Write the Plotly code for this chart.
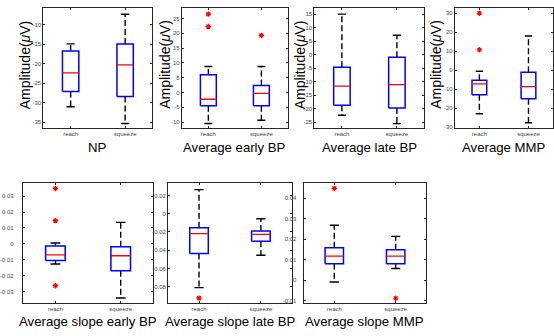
import plotly.graph_objects as go

W, H = 554, 336

categories = ["reach", "squeeze"]
panel_titles = ["NP", "Average early BP", "Average late BP", "Average MMP",
                "Average slope early BP", "Average slope late BP", "Average slope MMP"]

# per panel: [lower whisker, q1, median, q3, upper whisker] for reach, squeeze
np_reach = [-31.0, -27.1, -22.3, -16.7, -14.9]
np_squeeze = [-35.3, -28.4, -20.3, -14.9, -7.3]
np_out_reach = []
np_out_squeeze = []

ebp_reach = [-10.5, -4.5, -2.3, 6.0, 8.8]
ebp_squeeze = [-9.4, -4.5, -0.3, 2.4, 8.8]
ebp_out_reach = [26.5, 22.3]
ebp_out_squeeze = [19.3]

lbp_reach = [-22.4, -18.7, -11.6, -4.6, 15.0]
lbp_squeeze = [-25.5, -19.7, -11.1, -0.9, 7.2]
lbp_out_reach = []
lbp_out_squeeze = []

mmp_reach = [-22.9, -12.9, -7.2, -5.2, -0.5]
mmp_squeeze = [-27.6, -15.0, -8.6, -1.0, 18.0]
mmp_out_reach = [30.0, 10.8]
mmp_out_squeeze = []

sebp_reach = [-0.0127, -0.0104, -0.0069, -0.0013, 0.0005]
sebp_squeeze = [-0.034, -0.0169, -0.0075, -0.0019, 0.0135]
sebp_out_reach = [0.0348, 0.0146, -0.0263]
sebp_out_squeeze = []

slbp_reach = [-0.0811, -0.0436, -0.0218, -0.0153, 0.0265]
slbp_squeeze = [-0.0455, -0.0302, -0.0226, -0.019, -0.0055]
slbp_out_reach = [-0.0927]
slbp_out_squeeze = []

smmp_reach = [-0.0008, 0.0081, 0.0118, 0.0158, 0.0268]
smmp_squeeze = [0.0058, 0.0081, 0.0118, 0.0149, 0.0214]
smmp_out_reach = [0.0447]
smmp_out_squeeze = [-0.0087]

# tick values per panel
np_ticks = [-35, -30, -25, -20, -15, -10]
ebp_ticks = [-10, -5, 0, 5, 10, 15, 20, 25]
lbp_ticks = [-25, -20, -15, -10, -5, 0, 5, 10, 15]
mmp_ticks = [-30, -20, -10, 0, 10, 20, 30]
sebp_ticks = [-0.03, -0.02, -0.01, 0, 0.01, 0.02, 0.03]
slbp_ticks = [-0.08, -0.06, -0.04, -0.02, 0, 0.02]
smmp_ticks = [-0.01, 0, 0.01, 0.02, 0.03, 0.04]

panels = [
    (np_reach, np_squeeze, np_out_reach, np_out_squeeze, np_ticks),
    (ebp_reach, ebp_squeeze, ebp_out_reach, ebp_out_squeeze, ebp_ticks),
    (lbp_reach, lbp_squeeze, lbp_out_reach, lbp_out_squeeze, lbp_ticks),
    (mmp_reach, mmp_squeeze, mmp_out_reach, mmp_out_squeeze, mmp_ticks),
    (sebp_reach, sebp_squeeze, sebp_out_reach, sebp_out_squeeze, sebp_ticks),
    (slbp_reach, slbp_squeeze, slbp_out_reach, slbp_out_squeeze, slbp_ticks),
    (smmp_reach, smmp_squeeze, smmp_out_reach, smmp_out_squeeze, smmp_ticks),
]

# layout (pixels): x0, x1, y0(top), y1(bottom)
boxes_px = [
    (34, 145, 8, 129),
    (175, 283, 8, 129),
    (310, 422, 8, 129),
    (453, 553, 8, 129),
    (13, 146, 184, 305),
    (161, 287, 184, 305),
    (299, 424, 184, 305),
]
label_standoff = [0, 0, 0, 0, 7, 0, 5]
yranges = [
    (-36.5, -5.7), (-12.1, 28.6), (-27.2, 17.3), (-30.5, 32.8),
    (-0.0373, 0.0383), (-0.0982, 0.0339), (-0.0111, 0.0474),
]

AX = "#262626"
FONT = "Liberation Sans, Arial, sans-serif"
HW = 0.15   # box half width
CW = 0.075  # cap half width

fig = go.Figure()
annotations = []

for i, (rch, sqz, orch, osqz, ticks) in enumerate(panels):
    n = "" if i == 0 else str(i + 1)
    xa, ya = "x" + n, "y" + n
    for pos, st, outs in ((1, rch, orch), (2, sqz, osqz)):
        lw, q1, med, q3, uw = st
        # whiskers (dashed)
        fig.add_trace(go.Scatter(x=[pos, pos, None, pos, pos], y=[q3, uw, None, q1, lw],
                                 mode="lines", line=dict(color="black", width=1.4, dash="6px,3px"),
                                 xaxis=xa, yaxis=ya, showlegend=False, hoverinfo="skip"))
        # caps
        fig.add_trace(go.Scatter(x=[pos - CW, pos + CW, None, pos - CW, pos + CW],
                                 y=[uw, uw, None, lw, lw],
                                 mode="lines", line=dict(color="black", width=1.4),
                                 xaxis=xa, yaxis=ya, showlegend=False, hoverinfo="skip"))
        # box
        fig.add_trace(go.Scatter(x=[pos - HW, pos + HW, pos + HW, pos - HW, pos - HW],
                                 y=[q1, q1, q3, q3, q1],
                                 mode="lines", line=dict(color="#0000ff", width=1.5),
                                 xaxis=xa, yaxis=ya, showlegend=False, hoverinfo="skip"))
        # median
        fig.add_trace(go.Scatter(x=[pos - HW, pos + HW], y=[med, med],
                                 mode="lines", line=dict(color="#ff0000", width=1.3),
                                 xaxis=xa, yaxis=ya, showlegend=False, hoverinfo="skip"))
        if outs:
            fig.add_trace(go.Scatter(x=[pos] * len(outs), y=outs, mode="markers",
                                     marker=dict(symbol="asterisk-open", size=4.5, color="#ff0000",
                                                 line=dict(color="#ff0000", width=1.2)),
                                     xaxis=xa, yaxis=ya, showlegend=False, hoverinfo="skip"))

    x0, x1, y0, y1 = boxes_px[i]
    common = dict(showline=True, linecolor=AX, linewidth=1, mirror="ticks", ticks="inside",
                  ticklen=2, tickcolor=AX, showgrid=False, zeroline=False,
                  tickfont=dict(size=6, color="#444444", family=FONT))
    fig.layout["xaxis" + n] = dict(domain=[x0 / W, x1 / W], anchor=ya, range=[0.5, 2.5],
                                   tickvals=[1, 2], ticktext=categories, **common)
    fig.layout["yaxis" + n] = dict(domain=[1 - y1 / H, 1 - y0 / H], anchor=xa,
                                   range=list(yranges[i]), tickvals=ticks,
                                   ticktext=[f"{v:g}" for v in ticks],
                                   ticklabelstandoff=label_standoff[i], **common)
    # title under axes
    ty = 148 if i < 4 else 323
    annotations.append(dict(text=panel_titles[i], x=(x0 + x1) / 2 / W, y=1 - ty / H,
                            xref="paper", yref="paper", showarrow=False,
                            xanchor="center", yanchor="middle",
                            font=dict(size=13.2, color="black", family=FONT)))

ylabel_x = [15, 157, 295, 433]
for i, lx in enumerate(ylabel_x):
    annotations.append(dict(text="Amplitude(<i>μ</i>V)", x=lx / W, y=1 - 65 / H,
                            xref="paper", yref="paper", showarrow=False, textangle=-90,
                            xanchor="center", yanchor="middle",
                            font=dict(size=14, color="black", family=FONT)))

fig.update_layout(width=W, height=H, margin=dict(l=0, r=0, t=0, b=0),
                  paper_bgcolor="white", plot_bgcolor="white",
                  annotations=annotations, font=dict(family=FONT))

fig.write_html("out.html", config={"displayModeBar": False},
               post_script="document.body.style.margin='0px';")
